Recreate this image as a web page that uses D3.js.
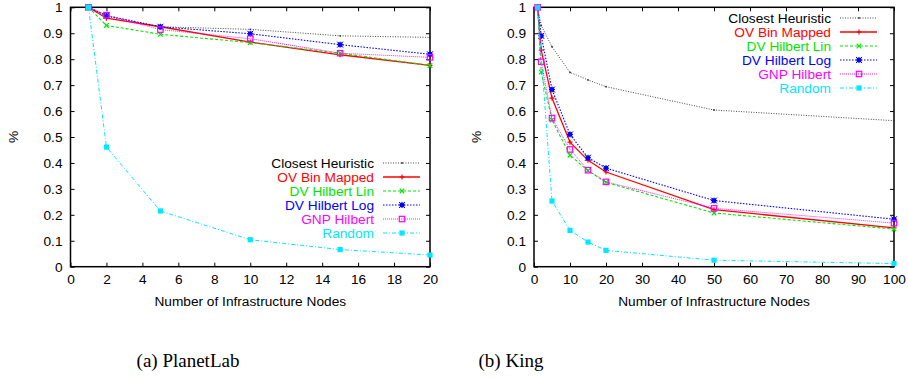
<!DOCTYPE html>
<html><head><meta charset="utf-8">
<script src="https://cdn.jsdelivr.net/npm/d3@7"></script>
<style>body{margin:0;background:#fff}svg{display:block}</style>
</head><body>
<svg id="c" width="908" height="379"></svg>
<script>
// ---- data ----
const seriesNames = ["Closest Heuristic","OV Bin Mapped","DV Hilbert Lin","DV Hilbert Log","GNP Hilbert","Random"];
const xTicksA = [0,2,4,6,8,10,12,14,16,18,20];
const xTicksB = [0,10,20,30,40,50,60,70,80,90,100];
const yTicks = [0,0.1,0.2,0.3,0.4,0.5,0.6,0.7,0.8,0.9,1];
const xA = [1,2,5,10,15,20];
const closestA = [1,0.965,0.925,0.915,0.89,0.884];
const ovBinA   = [1,0.958,0.925,0.866,0.817,0.776];
const dvLinA   = [1,0.93,0.896,0.864,0.823,0.776];
const dvLogA   = [1,0.968,0.925,0.898,0.856,0.819];
const gnpA     = [1,0.97,0.914,0.879,0.823,0.807];
const randomA  = [1,0.461,0.215,0.104,0.066,0.045];
const xB = [1,2,5,10,15,20,50,100];
const closestB = [1,0.93,0.848,0.749,0.72,0.694,0.604,0.563];
const ovBinB   = [1,0.835,0.65,0.48,0.41,0.365,0.22,0.15];
const dvLinB   = [1,0.75,0.565,0.43,0.37,0.325,0.207,0.145];
const dvLogB   = [1,0.89,0.683,0.51,0.42,0.38,0.255,0.183];
const gnpB     = [1,0.79,0.573,0.452,0.372,0.327,0.225,0.168];
const xRandB   = [1,5,10,15,20,50,100];
const randomB  = [1,0.253,0.14,0.095,0.063,0.025,0.012];

const styles = [
  {color:"#333333", dash:"1,1.5", w:0.9, mark:"dot"},
  {color:"#ff0000", dash:null, w:1.3, mark:"plus"},
  {color:"#00e600", dash:"3,2", w:1.1, mark:"cross"},
  {color:"#0000ff", dash:"1.5,1.5", w:1.1, mark:"star"},
  {color:"#ff00ff", dash:"1,1", w:0.9, mark:"osq"},
  {color:"#00e8ff", dash:"4,2,1,2", w:1, mark:"fsq"}
];

const svg = d3.select("#c");
const font = "'Liberation Sans', Arial, Helvetica, sans-serif";
const fs = 13.7;

function marker(g, type, x, y, c){
  if(type==="dot"){ g.append("circle").attr("cx",x).attr("cy",y).attr("r",0.9).attr("fill",c); }
  else if(type==="plus"){ g.append("path").attr("d",`M${x-2.5},${y}H${x+2.5}M${x},${y-2.5}V${y+2.5}`).attr("stroke",c).attr("stroke-width",1.2); }
  else if(type==="cross"){ g.append("path").attr("d",`M${x-2.3},${y-2.3}L${x+2.3},${y+2.3}M${x-2.3},${y+2.3}L${x+2.3},${y-2.3}`).attr("stroke",c).attr("stroke-width",1.2); }
  else if(type==="star"){ g.append("rect").attr("x",x-2.2).attr("y",y-2.2).attr("width",4.4).attr("height",4.4).attr("fill",c);
    g.append("path").attr("d",`M${x-3},${y-3}L${x+3},${y+3}M${x-3},${y+3}L${x+3},${y-3}M${x-3},${y}H${x+3}M${x},${y-3}V${y+3}`).attr("stroke",c).attr("stroke-width",1); }
  else if(type==="osq"){ g.append("rect").attr("x",x-2.7).attr("y",y-2.7).attr("width",5.4).attr("height",5.4).attr("fill","none").attr("stroke",c).attr("stroke-width",1.2); }
  else if(type==="fsq"){ g.append("rect").attr("x",x-2.6).attr("y",y-2.6).attr("width",5.2).attr("height",5.2).attr("fill",c); }
}

function chart(opt){
  const g = svg.append("g");
  const x = d3.scaleLinear().domain([0,opt.xmax]).range([opt.left,opt.right]);
  const y = d3.scaleLinear().domain([0,1]).range([266.7,7.3]);
  const fmt = d => d===0?"0":(d===1?"1":d3.format(".1f")(d));
  const bx = g.append("g").attr("transform",`translate(0,${y(0)})`)
    .call(d3.axisBottom(x).tickValues(opt.xticks).tickSize(-4).tickPadding(8).tickFormat(d3.format("d")));
  const tx = g.append("g").attr("transform",`translate(0,${y(1)})`)
    .call(d3.axisTop(x).tickValues(opt.xticks).tickSize(-4).tickFormat(""));
  const ly = g.append("g").attr("transform",`translate(${opt.left},0)`)
    .call(d3.axisLeft(y).tickValues(yTicks).tickSize(-4).tickPadding(8).tickFormat(fmt));
  const ry = g.append("g").attr("transform",`translate(${opt.right},0)`)
    .call(d3.axisRight(y).tickValues(yTicks).tickSize(-4).tickFormat(""));
  [bx,tx,ly,ry].forEach(a=>{
    a.select(".domain").remove();
    a.selectAll(".tick line").attr("stroke","#000").attr("stroke-width",1);
    a.selectAll("text").attr("font-family",font).attr("font-size",fs).attr("fill","#000");
  });
  g.append("rect").attr("x",opt.left).attr("y",y(1)).attr("width",opt.right-opt.left).attr("height",y(0)-y(1))
    .attr("fill","none").attr("stroke","#000").attr("stroke-width",1.5);
  g.append("text").attr("x",(opt.left+opt.right)/2).attr("y",306).attr("text-anchor","middle")
    .attr("font-family",font).attr("font-size",fs).text("Number of Infrastructure Nodes");
  g.append("text").attr("transform",`translate(${opt.ylabX},137) rotate(-90)`).attr("text-anchor","middle")
    .attr("font-family",font).attr("font-size",fs).text("%");
  const line = d3.line().x(d=>x(d[0])).y(d=>y(d[1]));
  opt.series.forEach((s,i)=>{
    const st = styles[i];
    const pts = s.xs.map((v,j)=>[v,s.ys[j]]);
    g.append("path").attr("d",line(pts)).attr("fill","none").attr("stroke",st.color)
      .attr("stroke-width",st.w).attr("stroke-dasharray",st.dash);
    const mg = g.append("g");
    pts.forEach(p=>marker(mg,st.mark,x(p[0]),y(p[1]),st.color));
  });
  seriesNames.forEach((n,i)=>{
    const st = styles[i];
    const yy = opt.legY + i*14;
    g.append("text").attr("x",opt.legTextX).attr("y",yy).attr("dy","0.35em").attr("text-anchor","end")
      .attr("font-family",font).attr("font-size",fs).attr("fill",i===0?"#000":st.color).text(n);
    g.append("line").attr("x1",opt.legTextX+9).attr("x2",opt.legTextX+46).attr("y1",yy).attr("y2",yy)
      .attr("stroke",st.color).attr("stroke-width",st.w).attr("stroke-dasharray",st.dash);
    marker(g,st.mark,opt.legTextX+28,yy,st.color);
  });
  svg.append("text").attr("x",opt.capX).attr("y",367).attr("text-anchor","middle")
    .attr("font-family","'Liberation Serif','Times New Roman',serif").attr("font-size",19).text(opt.caption);
}

chart({left:70.5,right:430,xmax:20,xticks:xTicksA,ylabX:18,legY:163,legTextX:374,capX:188,caption:"(a) PlanetLab",
  series:[{xs:xA,ys:closestA},{xs:xA,ys:ovBinA},{xs:xA,ys:dvLinA},{xs:xA,ys:dvLogA},{xs:xA,ys:gnpA},{xs:xA,ys:randomA}]});
chart({left:534,right:894,xmax:100,xticks:xTicksB,ylabX:481,legY:18,legTextX:831,capX:511,caption:"(b) King",
  series:[{xs:xB,ys:closestB},{xs:xB,ys:ovBinB},{xs:xB,ys:dvLinB},{xs:xB,ys:dvLogB},{xs:xB,ys:gnpB},{xs:xRandB,ys:randomB}]});
</script>
</body></html>
